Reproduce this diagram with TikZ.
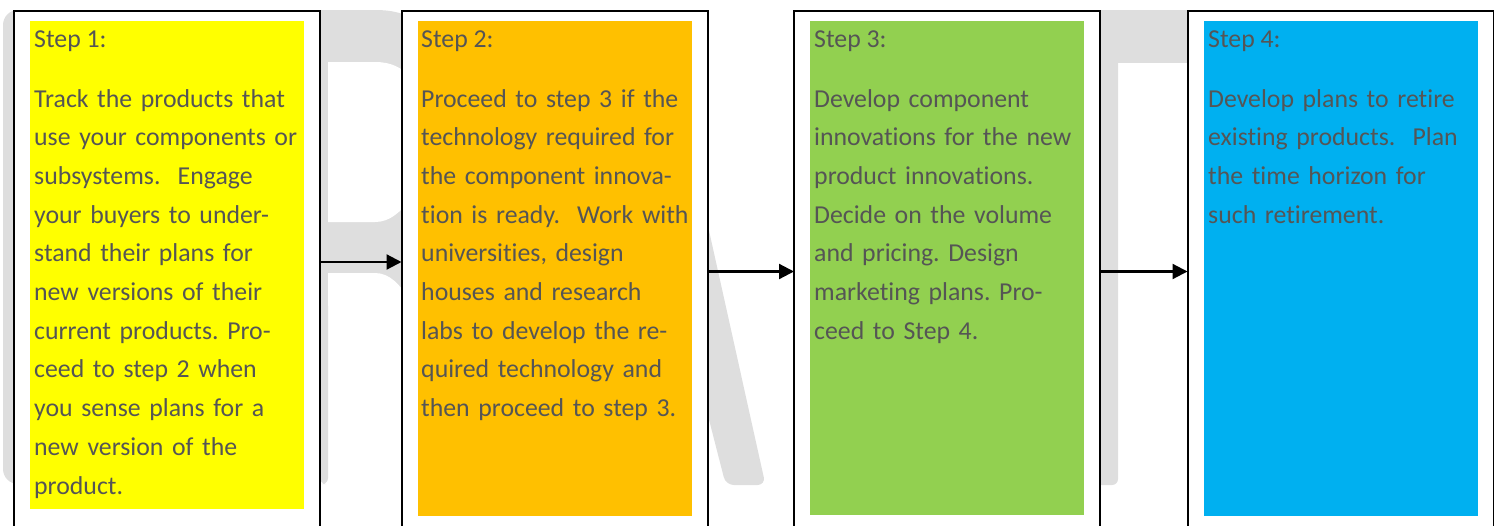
\documentclass[tikz,border=0pt]{standalone}
\usepackage{fontspec}
\setmainfont{Carlito}[Ligatures=NoCommon]
\frenchspacing
\usetikzlibrary{arrows.meta}
\definecolor{wmgrey}{HTML}{DEDEDE}
\definecolor{txtgrey}{HTML}{555555}
\definecolor{cyel}{HTML}{FFFF00}
\definecolor{corg}{HTML}{FFC000}
\definecolor{cgrn}{HTML}{92D050}
\definecolor{cblu}{HTML}{00B0F0}
\begin{document}
\begin{tikzpicture}[x=1pt,y=-1pt,
  box/.style={draw=black, line width=2pt, fill=white, inner sep=0pt, outer sep=0pt,
    minimum width=306pt, minimum height=525pt, anchor=north west},
  fillbox/.style={inner sep=0pt, outer sep=0pt, anchor=north west, draw=none, minimum width=274pt},
  title/.style={anchor=base west, inner sep=0pt, text=txtgrey, font=\fontsize{25.8}{38.7}\selectfont\frenchspacing},
  body/.style={title, text width=300pt, align=left},
  arr/.style={line width=2.2pt, -{Triangle[length=15pt,width=15pt]}},
  wm/.style={fill=wmgrey}]
\useasboundingbox (0,0) rectangle (1494,525);
\clip (0,0) rectangle (1494,525);
% watermark (DRAFT), partly hidden behind the boxes
\fill[wm, rounded corners=15pt] (3,10) rectangle (328,484);
\fill[wm] (320,10) -- (375,10) .. controls (392,10) and (401,13) .. (410,17) -- (410,300) -- (320,300) -- cycle;
\fill[white] (328,62) -- (375,62) .. controls (392,62) and (401,68) .. (410,76) -- (410,200) .. controls (400,212) and (390,222) .. (375,222) -- (328,222) -- cycle;
\fill[white] (328,273) -- (375,273) .. controls (390,273) and (400,285) .. (410,300) -- (410,490) -- (328,490) -- cycle;
\fill[wm, rounded corners=6pt] (320,300) rectangle (328,484);
\fill[wm, rounded corners=8pt] (650,190) -- (700,190) -- (765.5,485) -- (725.8,485) -- cycle;
\fill[wm, rounded corners=6pt] (1000,10) rectangle (1118,485);
\fill[wm] (1000,10) rectangle (1300,63);
% boxes
\node[box] (b1) at (14,10.5) {};
\node[box] (b2) at (401.5,10.5) {};
\node[box] (b3) at (794,10.5) {};
\node[box] (b4) at (1187.5,10.5) {};
% coloured panels
\node[fillbox, fill=cyel, minimum height=488pt] (f1) at (30,21) {};
\node[fillbox, fill=corg, minimum height=495pt] (f2) at (418,21) {};
\node[fillbox, fill=cgrn, minimum height=494pt] (f3) at (810,21) {};
\node[fillbox, fill=cblu, minimum height=495pt] (f4) at (1204,21) {};
% texts
\node[title] (t1) at (34,47) {Step 1:};
\node[body] (d1) at (34,107) {Track the products that\\use your components or\\subsystems.\ \ Engage\\your buyers to under-\\stand their plans for\\new versions of their\\current products. Pro-\\ceed to step 2 when\\you sense plans for a\\new version of the\\product.};
\node[title] (t2) at (421,47) {Step 2:};
\node[body] (d2) at (421,107) {Proceed to step 3 if the\\technology required for\\the component innova-\\tion is ready.\ \ Work with\\universities, design\\houses and research\\labs to develop the re-\\quired technology and\\then proceed to step 3.};
\node[title] (t3) at (814,47) {Step 3:};
\node[body] (d3) at (814,107) {Develop component\\innovations for the new\\product innovations.\\Decide on the volume\\and pricing. Design\\marketing plans. Pro-\\ceed to Step 4.};
\node[title] (t4) at (1208,47) {Step 4:};
\node[body] (d4) at (1208,107) {Develop plans to retire\\existing products.\ \ Plan\\the time horizon for\\such retirement.};
% arrows
\draw[arr] ([yshift=11pt]b1.east) -- ([yshift=11pt]b2.west);
\draw[arr] ([yshift=1.5pt]b2.east) -- ([yshift=1.5pt]b3.west);
\draw[arr] ([yshift=1.5pt]b3.east) -- ([yshift=1.5pt]b4.west);
\end{tikzpicture}
\end{document}
